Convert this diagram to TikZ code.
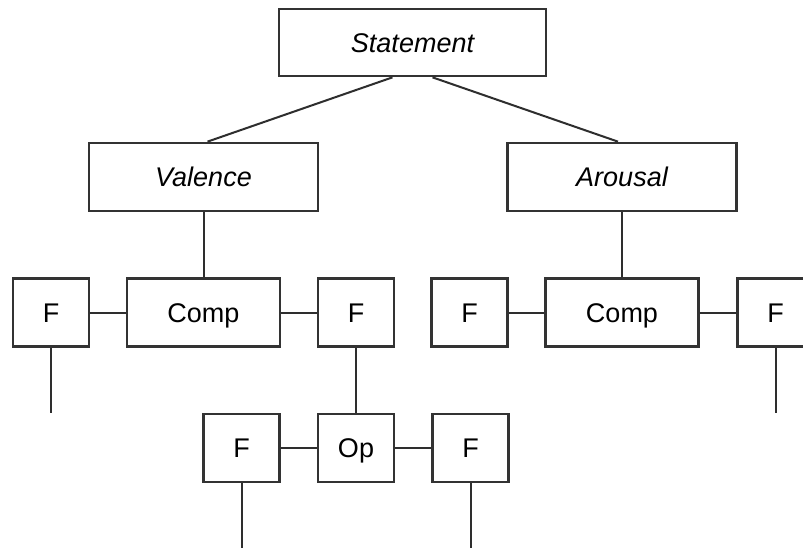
\documentclass[tikz,border=0pt]{standalone}
\usepackage{fontspec}
\setmainfont{Liberation Sans}
\usetikzlibrary{calc}
\begin{document}
\begin{tikzpicture}[x=1pt,y=-1pt,
  box/.style={draw=black!80,line width=2.7pt,fill=white,rectangle,inner sep=0pt,
    minimum height=68pt,text height=19.3pt,text depth=0pt,
    font=\fontsize{27}{32}\selectfont},
  fbox/.style={box,minimum width=76pt},
  compbox/.style={box,minimum width=153pt},
  wide/.style={box,minimum width=229pt,font=\fontsize{27}{32}\selectfont\itshape},
  link/.style={draw=black!82,line width=2pt}]
\clip (0,0) rectangle (803,548);
\fill[white] (0,0) rectangle (803,548);

% top level
\node[wide,minimum width=267pt,minimum height=67pt] (st) at (412.5,42.5) {Statement};
\node[wide] (val) at (203.5,177) {Valence};
\node[wide] (aro) at (622,177) {Arousal};

% second level
\node[fbox] (fa) at (51,312.5) {F};
\node[compbox] (ca) at (203.5,312.5) {Comp};
\node[fbox] (fb) at (356,312.5) {F};
\node[fbox] (fc) at (469.5,312.5) {F};
\node[compbox] (cb) at (622,312.5) {Comp};
\node[fbox] (fd) at (775.5,312.5) {F};

% third level
\node[fbox] (fe) at (241.5,448) {F};
\node[fbox] (op) at (356,448) {Op};
\node[fbox] (ff) at (470.5,448) {F};

% loose ends
\coordinate (ea) at (51,413);
\coordinate (ed) at (775.5,413);
\coordinate (ee) at (241.5,548);
\coordinate (ef) at (470.5,548);

\draw[link] ($(st.south)+(-20,0)$) -- ($(val.north)+(4,0)$);
\draw[link] ($(st.south)+(20,0)$) -- ($(aro.north)+(-4,0)$);
\draw[link] (val.south) -- (ca.north);
\draw[link] (aro.south) -- (cb.north);
\draw[link] (fa.east) -- (ca.west);
\draw[link] (ca.east) -- (fb.west);
\draw[link] (fc.east) -- (cb.west);
\draw[link] (cb.east) -- (fd.west);
\draw[link] (fb.south) -- (op.north);
\draw[link] (fe.east) -- (op.west);
\draw[link] (op.east) -- (ff.west);
\draw[link] (fa.south) -- (ea);
\draw[link] (fd.south) -- (ed);
\draw[link] (fe.south) -- (ee);
\draw[link] (ff.south) -- (ef);
\end{tikzpicture}
\end{document}
